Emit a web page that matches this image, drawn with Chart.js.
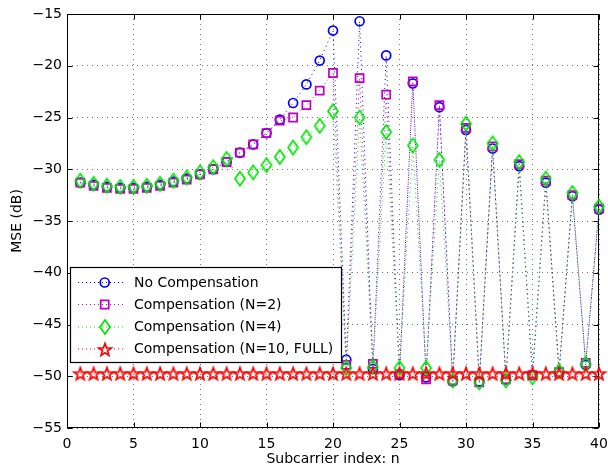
<!DOCTYPE html>
<html>
<head>
<meta charset="utf-8">
<script src="https://cdn.jsdelivr.net/npm/chart.js@4.4.1/dist/chart.umd.min.js"></script>
<style>
  html, body { margin: 0; padding: 0; background: #fff; }
  #wrap { width: 608px; height: 468px; }
</style>
</head>
<body>
<div id="wrap"><canvas id="chart" width="608" height="468"></canvas></div>
<script>
const subcarriers = [1, 2, 3, 4, 5, 6, 7, 8, 9, 10, 11, 12, 13, 14, 15, 16, 17, 18, 19, 20,
  21, 22, 23, 24, 25, 26, 27, 28, 29, 30, 31, 32, 33, 34, 35, 36, 37, 38, 39, 40];

const noComp = [-31.3, -31.5, -31.7, -31.8, -31.8, -31.7, -31.5, -31.2, -30.9, -30.5,
  -30.0, -29.3, -28.4, -27.6, -26.5, -25.2, -23.6, -21.8, -19.5, -16.6,
  -48.4, -15.7, -49.3, -19.0, -49.9, -21.7, -50.1, -24.0, -50.5, -26.2,
  -50.5, -28.0, -50.3, -29.7, -49.9, -31.3, -49.6, -32.6, -48.9, -33.9];

const compN2 = [-31.3, -31.6, -31.8, -31.9, -31.9, -31.8, -31.6, -31.3, -31.0, -30.5,
  -30.0, -29.3, -28.4, -27.6, -26.5, -25.3, -25.0, -23.8, -22.4, -20.7,
  -48.9, -21.2, -48.8, -22.8, -49.8, -21.5, -50.3, -23.8, -50.4, -26.0,
  -50.6, -27.8, -50.3, -29.5, -49.9, -31.1, -49.6, -32.5, -48.7, -33.8];

const compN4 = [-31.1, -31.4, -31.6, -31.7, -31.7, -31.6, -31.4, -31.1, -30.8, -30.3,
  -29.8, -29.0, -30.9, -30.3, -29.6, -28.8, -27.9, -26.9, -25.8, -24.4,
  -49.2, -25.0, -49.1, -26.4, -49.2, -27.7, -49.2, -29.1, -50.4, -25.6,
  -50.6, -27.5, -50.4, -29.3, -50.1, -30.9, -49.5, -32.3, -48.8, -33.6];

const compFull = [-49.7, -49.7, -49.7, -49.7, -49.7, -49.7, -49.7, -49.7, -49.7, -49.7,
  -49.7, -49.7, -49.7, -49.7, -49.7, -49.7, -49.7, -49.7, -49.7, -49.7,
  -49.7, -49.7, -49.7, -49.7, -49.7, -49.7, -49.7, -49.7, -49.7, -49.7,
  -49.7, -49.7, -49.7, -49.7, -49.7, -49.7, -49.7, -49.7, -49.7, -49.7];

const seriesLabels = ["No Compensation", "Compensation (N=2)", "Compensation (N=4)", "Compensation (N=10, FULL)"];
const seriesColors = ["#0000ff", "#c000c0", "#00e600", "#ff0000"];

const FONT = "'DejaVu Sans', 'Liberation Sans', Arial, sans-serif";

// hollow diamond / pentagram sprites, like the matlab ones
function sprite(w, h, color, draw) {
  const c = document.createElement("canvas");
  c.width = w;
  c.height = h;
  const ctx = c.getContext("2d");
  ctx.strokeStyle = color;
  ctx.lineWidth = 1.7;
  ctx.lineJoin = "miter";
  ctx.beginPath();
  draw(ctx, w / 2, h / 2);
  ctx.closePath();
  ctx.stroke();
  return c;
}

const diamondMark = sprite(14, 18, seriesColors[2], (ctx, cx, cy) => {
  ctx.moveTo(cx, cy - 7);
  ctx.lineTo(cx + 5, cy);
  ctx.lineTo(cx, cy + 7);
  ctx.lineTo(cx - 5, cy);
});
const starMark = sprite(18, 18, seriesColors[3], (ctx, cx, cy) => {
  const R = 6.6, r = 2.7;
  for (let i = 0; i < 10; i++) {
    const rad = i % 2 === 0 ? R : r;
    const a = -Math.PI / 2 + i * Math.PI / 5;
    const px = cx + rad * Math.cos(a);
    const py = cy + 1 + rad * Math.sin(a);
    if (i === 0) ctx.moveTo(px, py); else ctx.lineTo(px, py);
  }
});
const marks = ["circle", "rect", diamondMark, starMark];
const markRadius = [4.5, 5.7, 6, 6];

function series(i, values) {
  return {
    label: seriesLabels[i],
    data: subcarriers.map((n, k) => ({ x: n, y: values[k] })),
    borderColor: seriesColors[i],
    borderWidth: 1,
    borderDash: [1, 3.5],
    pointStyle: marks[i],
    pointRadius: markRadius[i],
    pointBorderWidth: 1.7,
    pointBorderColor: seriesColors[i],
    pointBackgroundColor: "rgba(0,0,0,0)",
    showLine: true,
    fill: false,
    clip: false,
    order: 3 - i,
  };
}

const boxAndTicks = {
  id: "boxAndTicks",
  beforeDatasetsDraw(chart) {
    const { ctx, chartArea: a, scales } = chart;
    const L = Math.round(a.left) + 0.5, R = Math.round(a.right) - 0.5;
    const T = Math.round(a.top) + 0.5, B = Math.round(a.bottom) - 0.5;
    ctx.save();
    ctx.strokeStyle = "#000";
    ctx.lineWidth = 1;
    ctx.setLineDash([]);
    ctx.strokeRect(L, T, R - L, B - T);
    ctx.beginPath();
    scales.x.ticks.forEach((t) => {
      const px = Math.round(scales.x.getPixelForValue(t.value)) + 0.5;
      ctx.moveTo(px, B); ctx.lineTo(px, B - 5);
      ctx.moveTo(px, T); ctx.lineTo(px, T + 5);
    });
    scales.y.ticks.forEach((t) => {
      const py = Math.round(scales.y.getPixelForValue(t.value)) + 0.5;
      ctx.moveTo(L, py); ctx.lineTo(L + 5, py);
      ctx.moveTo(R, py); ctx.lineTo(R - 5, py);
    });
    ctx.stroke();
    ctx.restore();
  },
};

function legendMark(ctx, i, x, y) {
  const m = marks[i];
  if (typeof m === "string") {
    ctx.strokeStyle = seriesColors[i];
    ctx.fillStyle = "rgba(0,0,0,0)";
    ctx.lineWidth = 1.7;
    Chart.helpers.drawPoint(ctx, { pointStyle: m, radius: markRadius[i], borderWidth: 1.7, rotation: 0 }, x, y);
  } else {
    ctx.drawImage(m, Math.round(x - m.width / 2), Math.round(y - m.height / 2));
  }
}

const boxedLegend = {
  id: "boxedLegend",
  afterDraw(chart) {
    const ctx = chart.ctx;
    const bx = 70.5, by = 267.5, bw = 271, bh = 95;
    const rows = [282.5, 304.5, 327, 349];
    ctx.save();
    ctx.fillStyle = "#fff";
    ctx.fillRect(bx, by, bw, bh);
    ctx.strokeStyle = "#000";
    ctx.lineWidth = 1.2;
    ctx.strokeRect(bx, by, bw, bh);
    ctx.font = "14px " + FONT;
    ctx.textBaseline = "middle";
    rows.forEach((y, i) => {
      ctx.strokeStyle = seriesColors[i];
      ctx.lineWidth = 1;
      ctx.setLineDash([1, 3]);
      ctx.beginPath();
      ctx.moveTo(78, y);
      ctx.lineTo(123, y);
      ctx.stroke();
      ctx.setLineDash([]);
      legendMark(ctx, i, 104.7, y);
      ctx.fillStyle = "#000";
      ctx.fillText(seriesLabels[i], 134, y + 0.5);
    });
    ctx.restore();
  },
};

new Chart(document.getElementById("chart"), {
  type: "scatter",
  data: {
    datasets: [
      series(0, noComp),
      series(1, compN2),
      series(2, compN4),
      series(3, compFull),
    ],
  },
  options: {
    responsive: false,
    animation: false,
    devicePixelRatio: 1,
    layout: { padding: { left: 0, right: 9, top: 14, bottom: 0 } },
    plugins: {
      legend: { display: false },
      tooltip: { enabled: false },
    },
    scales: {
      x: {
        type: "linear",
        min: 0,
        max: 40,
        ticks: { stepSize: 5, color: "#000", font: { family: FONT, size: 14 }, padding: 8, maxRotation: 0 },
        grid: { color: "#777", lineWidth: 1, drawTicks: false },
        border: { display: false, dash: [1, 4] },
        title: { display: true, text: "Subcarrier index: n", color: "#000", font: { family: FONT, size: 14 }, padding: { top: 0, bottom: 0 } },
        afterFit: (s) => { s.height = 40; s.paddingLeft = 0; s.paddingRight = 0; },
      },
      y: {
        type: "linear",
        min: -55,
        max: -15,
        ticks: {
          stepSize: 5,
          color: "#000",
          font: { family: FONT, size: 14 },
          padding: 5,
          callback: (v) => (v < 0 ? "\u2212" + Math.abs(v) : String(v)),
        },
        grid: { color: "#777", lineWidth: 1, drawTicks: false },
        border: { display: false, dash: [1, 4] },
        title: { display: true, text: "MSE (dB)", color: "#000", font: { family: FONT, size: 14 }, padding: { top: 9, bottom: 0 } },
        afterFit: (s) => { s.width = 67; s.paddingTop = 0; s.paddingBottom = 0; },
      },
    },
  },
  plugins: [boxAndTicks, boxedLegend],
});
</script>
</body>
</html>
